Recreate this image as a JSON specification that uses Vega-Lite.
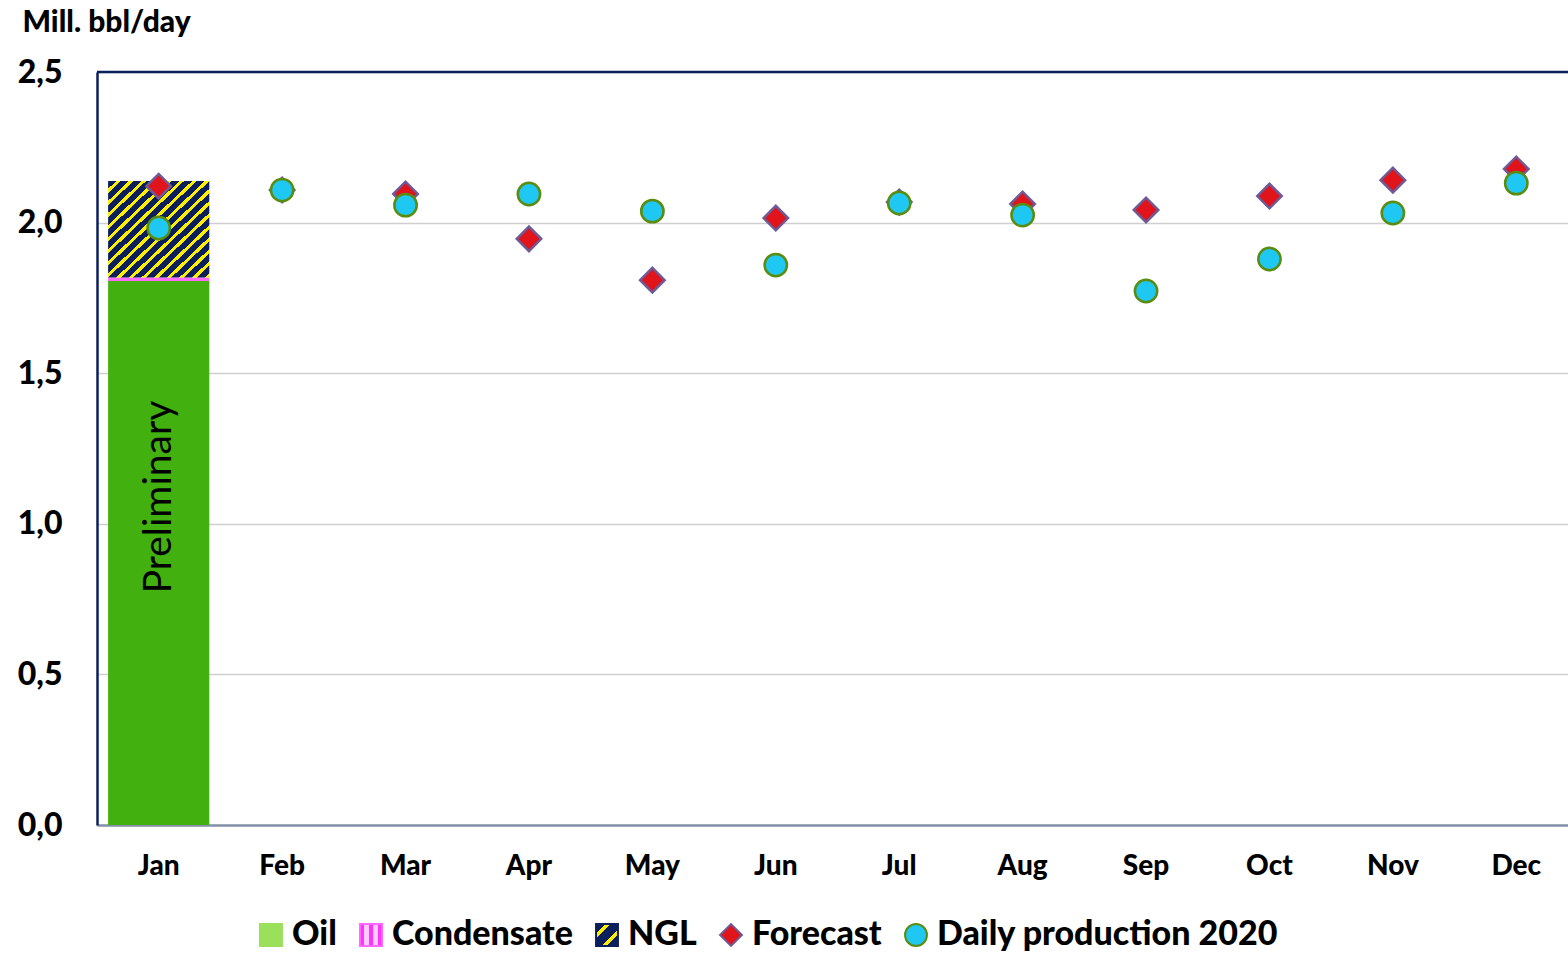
{
  "$schema": "https://vega.github.io/schema/vega-lite/v6.json",
  "width": 1471,
  "height": 753,
  "autosize": {"type": "none"},
  "padding": {"left": 97, "top": 72, "right": 0, "bottom": 128},
  "background": "white",
  "config": {
    "locale": {"number": {"decimal": ",", "thousands": ".", "grouping": [3], "currency": ["", " €"]}},
    "view": {"stroke": null},
    "font": "Lato",
    "legend": {
      "orient": "none",
      "legendX": 157,
      "legendY": 846,
      "direction": "horizontal",
      "labelFont": "Lato",
      "labelFontSize": 34,
      "labelFontWeight": 900,
      "labelColor": "black",
      "labelLimit": 1000,
      "labelOffset": 4,
      "columnPadding": 17,
      "symbolSize": 480,
      "symbolStrokeWidth": 2
    }
  },
  "datasets": {
    "main": [
      {"month": "Jan", "series": "Oil", "k": 1, "value": 1.806},
      {"month": "Jan", "series": "Condensate", "k": 2, "value": 0.012},
      {"month": "Jan", "series": "NGL", "k": 3, "value": 0.32},
      {"month": "Jan", "series": "Forecast", "value": 2.121},
      {"month": "Feb", "series": "Forecast", "value": 2.108},
      {"month": "Mar", "series": "Forecast", "value": 2.095},
      {"month": "Apr", "series": "Forecast", "value": 1.946},
      {"month": "May", "series": "Forecast", "value": 1.809},
      {"month": "Jun", "series": "Forecast", "value": 2.015},
      {"month": "Jul", "series": "Forecast", "value": 2.068},
      {"month": "Aug", "series": "Forecast", "value": 2.062},
      {"month": "Sep", "series": "Forecast", "value": 2.042},
      {"month": "Oct", "series": "Forecast", "value": 2.088},
      {"month": "Nov", "series": "Forecast", "value": 2.141},
      {"month": "Dec", "series": "Forecast", "value": 2.178},
      {"month": "Jan", "series": "Daily production 2020", "value": 1.982},
      {"month": "Feb", "series": "Daily production 2020", "value": 2.108},
      {"month": "Mar", "series": "Daily production 2020", "value": 2.058},
      {"month": "Apr", "series": "Daily production 2020", "value": 2.095},
      {"month": "May", "series": "Daily production 2020", "value": 2.038},
      {"month": "Jun", "series": "Daily production 2020", "value": 1.859},
      {"month": "Jul", "series": "Daily production 2020", "value": 2.065},
      {"month": "Aug", "series": "Daily production 2020", "value": 2.025},
      {"month": "Sep", "series": "Daily production 2020", "value": 1.773},
      {"month": "Oct", "series": "Daily production 2020", "value": 1.879},
      {"month": "Nov", "series": "Daily production 2020", "value": 2.032},
      {"month": "Dec", "series": "Daily production 2020", "value": 2.131}
    ]
  },
  "data": {"name": "main"},
  "layer": [
    {
      "transform": [
        {"filter": "indexof(['Oil','Condensate','NGL'], datum.series) >= 0"},
        {"stack": "value", "groupby": ["month"], "sort": [{"field": "k", "order": "ascending"}], "as": ["v0", "v1"]}
      ],
      "layer": [
        {
          "transform": [{"filter": "datum.series == 'Oil'"}],
          "mark": {"type": "bar", "strokeWidth": 0, "opacity": 1, "color": "#42b00e"},
          "encoding": {
            "x": {
              "field": "month", "type": "nominal",
              "sort": ["Jan","Feb","Mar","Apr","May","Jun","Jul","Aug","Sep","Oct","Nov","Dec"],
              "scale": {"domain": ["Jan","Feb","Mar","Apr","May","Jun","Jul","Aug","Sep","Oct","Nov","Dec"], "range": [0, 1481], "paddingInner": 0.18, "paddingOuter": 0.09},
              "axis": {"title": null, "labelAngle": 0, "ticks": false, "domainColor": "#8392a8", "domainWidth": 2.5, "labelFont": "Lato", "labelFontSize": 28, "labelFontWeight": 900, "labelColor": "black", "labelPadding": 27, "grid": false}
            },
            "y": {
              "field": "v0", "type": "quantitative",
              "scale": {"domain": [0, 2.5], "nice": false, "zero": true},
              "axis": {"values": [0, 0.5, 1, 1.5, 2, 2.5], "format": ".1f", "ticks": false, "domainColor": "#0b1f5c", "domainWidth": 2.5, "grid": true, "gridColor": "#cfcfcf", "gridWidth": 1.5, "labelFont": "Lato", "labelFontSize": 32, "labelFontWeight": 900, "labelColor": "black", "labelPadding": 35, "title": "Mill. bbl/day", "titleAngle": 0, "titleAlign": "left", "titleBaseline": "middle", "titleX": -75, "titleY": -50, "titleFont": "Lato", "titleFontSize": 30, "titleFontWeight": 900, "titleColor": "black"}
            },
            "y2": {"field": "v1"}
          }
        },
        {
          "transform": [{"filter": "datum.series == 'Condensate'"}],
          "mark": {"type": "bar", "strokeWidth": 0, "opacity": 1, "color": "#ff6cff"},
          "encoding": {
            "x": {"field": "month", "type": "nominal", "sort": ["Jan","Feb","Mar","Apr","May","Jun","Jul","Aug","Sep","Oct","Nov","Dec"]},
            "y": {"field": "v0", "type": "quantitative"},
            "y2": {"field": "v1"}
          }
        },
        {
          "transform": [{"filter": "datum.series == 'NGL'"}],
          "mark": {"type": "bar", "strokeWidth": 0, "opacity": 1, "color": {"gradient": "linear", "x1": 0, "y1": 0, "x2": 1, "y2": 1, "stops": [
              {"offset": 0, "color": "#0b1f5c"}, {"offset": 0.04, "color": "#0b1f5c"}, {"offset": 0.04, "color": "#ffee00"}, {"offset": 0.0625, "color": "#ffee00"},
              {"offset": 0.0625, "color": "#0b1f5c"}, {"offset": 0.1025, "color": "#0b1f5c"}, {"offset": 0.1025, "color": "#ffee00"}, {"offset": 0.125, "color": "#ffee00"},
              {"offset": 0.125, "color": "#0b1f5c"}, {"offset": 0.165, "color": "#0b1f5c"}, {"offset": 0.165, "color": "#ffee00"}, {"offset": 0.1875, "color": "#ffee00"},
              {"offset": 0.1875, "color": "#0b1f5c"}, {"offset": 0.2275, "color": "#0b1f5c"}, {"offset": 0.2275, "color": "#ffee00"}, {"offset": 0.25, "color": "#ffee00"},
              {"offset": 0.25, "color": "#0b1f5c"}, {"offset": 0.29, "color": "#0b1f5c"}, {"offset": 0.29, "color": "#ffee00"}, {"offset": 0.3125, "color": "#ffee00"},
              {"offset": 0.3125, "color": "#0b1f5c"}, {"offset": 0.3525, "color": "#0b1f5c"}, {"offset": 0.3525, "color": "#ffee00"}, {"offset": 0.375, "color": "#ffee00"},
              {"offset": 0.375, "color": "#0b1f5c"}, {"offset": 0.415, "color": "#0b1f5c"}, {"offset": 0.415, "color": "#ffee00"}, {"offset": 0.4375, "color": "#ffee00"},
              {"offset": 0.4375, "color": "#0b1f5c"}, {"offset": 0.4775, "color": "#0b1f5c"}, {"offset": 0.4775, "color": "#ffee00"}, {"offset": 0.5, "color": "#ffee00"},
              {"offset": 0.5, "color": "#0b1f5c"}, {"offset": 0.54, "color": "#0b1f5c"}, {"offset": 0.54, "color": "#ffee00"}, {"offset": 0.5625, "color": "#ffee00"},
              {"offset": 0.5625, "color": "#0b1f5c"}, {"offset": 0.6025, "color": "#0b1f5c"}, {"offset": 0.6025, "color": "#ffee00"}, {"offset": 0.625, "color": "#ffee00"},
              {"offset": 0.625, "color": "#0b1f5c"}, {"offset": 0.665, "color": "#0b1f5c"}, {"offset": 0.665, "color": "#ffee00"}, {"offset": 0.6875, "color": "#ffee00"},
              {"offset": 0.6875, "color": "#0b1f5c"}, {"offset": 0.7275, "color": "#0b1f5c"}, {"offset": 0.7275, "color": "#ffee00"}, {"offset": 0.75, "color": "#ffee00"},
              {"offset": 0.75, "color": "#0b1f5c"}, {"offset": 0.79, "color": "#0b1f5c"}, {"offset": 0.79, "color": "#ffee00"}, {"offset": 0.8125, "color": "#ffee00"},
              {"offset": 0.8125, "color": "#0b1f5c"}, {"offset": 0.8525, "color": "#0b1f5c"}, {"offset": 0.8525, "color": "#ffee00"}, {"offset": 0.875, "color": "#ffee00"},
              {"offset": 0.875, "color": "#0b1f5c"}, {"offset": 0.915, "color": "#0b1f5c"}, {"offset": 0.915, "color": "#ffee00"}, {"offset": 0.9375, "color": "#ffee00"},
              {"offset": 0.9375, "color": "#0b1f5c"}, {"offset": 0.9775, "color": "#0b1f5c"}, {"offset": 0.9775, "color": "#ffee00"}, {"offset": 1, "color": "#ffee00"}
            ]}},
          "encoding": {
            "x": {"field": "month", "type": "nominal", "sort": ["Jan","Feb","Mar","Apr","May","Jun","Jul","Aug","Sep","Oct","Nov","Dec"]},
            "y": {"field": "v0", "type": "quantitative"},
            "y2": {"field": "v1"}
          }
        }
      ]
    },
    {
      "data": {"values": [{"month": "Jan", "label": "Preliminary"}]},
      "mark": {"type": "text", "angle": -90, "font": "Lato", "fontSize": 39, "color": "black", "align": "center", "baseline": "middle"},
      "encoding": {
        "x": {"field": "month", "type": "nominal", "sort": ["Jan","Feb","Mar","Apr","May","Jun","Jul","Aug","Sep","Oct","Nov","Dec"]},
        "y": {"datum": 1.089, "type": "quantitative"},
        "text": {"field": "label"}
      }
    },
    {
      "data": {"values": [{"top": 2.5}]},
      "mark": {"type": "rule", "color": "#0b1f5c", "strokeWidth": 2.5},
      "encoding": {"y": {"field": "top", "type": "quantitative"}}
    },
    {
      "transform": [{"filter": "datum.series == 'Forecast'"}],
      "mark": {"type": "point", "filled": true, "opacity": 1, "strokeWidth": 2.5, "size": 600},
      "encoding": {
        "x": {"field": "month", "type": "nominal", "sort": ["Jan","Feb","Mar","Apr","May","Jun","Jul","Aug","Sep","Oct","Nov","Dec"]},
        "y": {"field": "value", "type": "quantitative"},
        "color": {"field": "series", "type": "nominal", "legend": null, "scale": {"domain": ["Forecast", "Daily production 2020"], "range": ["#e0141a", "#1ec8f2"]}},
        "shape": {"field": "series", "type": "nominal", "title": null,
          "scale": {"domain": ["Oil", "Condensate", "NGL", "Forecast", "Daily production 2020"], "range": ["square", "square", "square", "diamond", "circle"]},
          "legend": {
            "symbolFillColor": {"expr": "datum.value == 'NGL' ? {gradient: 'linear', x1: 0, y1: 0, x2: 1, y2: 1, stops: [{offset: 0, color: '#0b1f5c'}, {offset: 0.22, color: '#0b1f5c'}, {offset: 0.22, color: '#ffee00'}, {offset: 0.34, color: '#ffee00'}, {offset: 0.34, color: '#0b1f5c'}, {offset: 0.62, color: '#0b1f5c'}, {offset: 0.62, color: '#ffee00'}, {offset: 0.74, color: '#ffee00'}, {offset: 0.74, color: '#0b1f5c'}, {offset: 1, color: '#0b1f5c'}]} : datum.value == 'Condensate' ? {gradient: 'linear', x1: 0, y1: 0, x2: 1, y2: 0, stops: [{offset: 0, color: '#ff33ff'}, {offset: 0.2, color: '#ff33ff'}, {offset: 0.2, color: '#ffccff'}, {offset: 0.4, color: '#ffccff'}, {offset: 0.4, color: '#ff33ff'}, {offset: 0.6, color: '#ff33ff'}, {offset: 0.6, color: '#ffccff'}, {offset: 0.8, color: '#ffccff'}, {offset: 0.8, color: '#ff33ff'}, {offset: 1, color: '#ff33ff'}]} : datum.value == 'Oil' ? '#9be05a' : datum.value == 'Forecast' ? '#e0141a' : '#1ec8f2'"}
          }
        },
        "stroke": {"field": "series", "type": "nominal", "title": null, "scale": {"domain": ["Oil", "Condensate", "NGL", "Forecast", "Daily production 2020"], "range": ["#9be05a", "#ff66ff", "#0b1f5c", "#6e5a96", "#5a8c10"]}}
      }
    },
    {
      "transform": [{"filter": "datum.series == 'Daily production 2020'"}],
      "mark": {"type": "point", "filled": true, "opacity": 1, "strokeWidth": 2.5, "size": 500},
      "encoding": {
        "x": {"field": "month", "type": "nominal", "sort": ["Jan","Feb","Mar","Apr","May","Jun","Jul","Aug","Sep","Oct","Nov","Dec"]},
        "y": {"field": "value", "type": "quantitative"},
        "color": {"field": "series", "type": "nominal", "legend": null},
        "shape": {"field": "series", "type": "nominal", "title": null,
          "legend": {
            "symbolFillColor": {"expr": "datum.value == 'NGL' ? {gradient: 'linear', x1: 0, y1: 0, x2: 1, y2: 1, stops: [{offset: 0, color: '#0b1f5c'}, {offset: 0.22, color: '#0b1f5c'}, {offset: 0.22, color: '#ffee00'}, {offset: 0.34, color: '#ffee00'}, {offset: 0.34, color: '#0b1f5c'}, {offset: 0.62, color: '#0b1f5c'}, {offset: 0.62, color: '#ffee00'}, {offset: 0.74, color: '#ffee00'}, {offset: 0.74, color: '#0b1f5c'}, {offset: 1, color: '#0b1f5c'}]} : datum.value == 'Condensate' ? {gradient: 'linear', x1: 0, y1: 0, x2: 1, y2: 0, stops: [{offset: 0, color: '#ff33ff'}, {offset: 0.2, color: '#ff33ff'}, {offset: 0.2, color: '#ffccff'}, {offset: 0.4, color: '#ffccff'}, {offset: 0.4, color: '#ff33ff'}, {offset: 0.6, color: '#ff33ff'}, {offset: 0.6, color: '#ffccff'}, {offset: 0.8, color: '#ffccff'}, {offset: 0.8, color: '#ff33ff'}, {offset: 1, color: '#ff33ff'}]} : datum.value == 'Oil' ? '#9be05a' : datum.value == 'Forecast' ? '#e0141a' : '#1ec8f2'"}
          }
        },
        "stroke": {"field": "series", "type": "nominal", "title": null}
      }
    }
  ]
}
